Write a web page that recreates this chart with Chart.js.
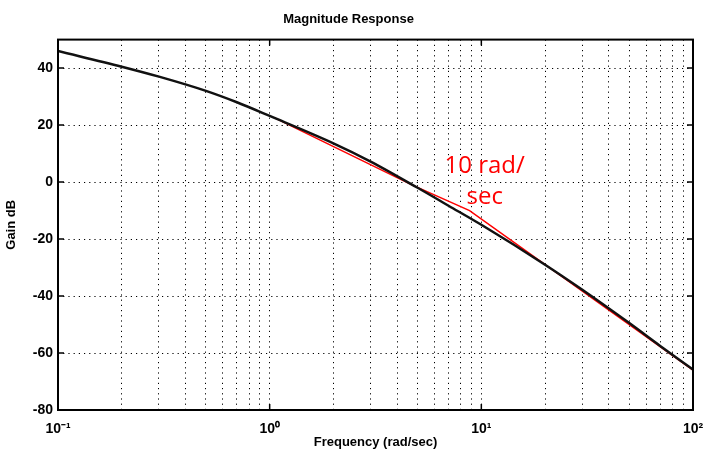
<!DOCTYPE html>
<html>
<head>
<meta charset="utf-8">
<script src="https://cdn.jsdelivr.net/npm/chart.js@4.4.1/dist/chart.umd.min.js"></script>
<style>
  html, body { margin: 0; padding: 0; background: #fff; }
  #wrap { width: 707px; height: 452px; }
</style>
</head>
<body>
<div id="wrap"><canvas id="bode"></canvas></div>
<script>
// values
var freq = [0.1, 0.2, 0.3, 0.5, 0.7, 1, 2, 3, 5, 7, 10, 20, 30, 50, 70, 100]
var gain = [46, 40.5, 37, 32, 28, 23.2, 13.6, 7.2, -2, -8.3, -15, -29, -37.8, -49.5, -57.5, -65.8]

// hand drawn red asymptote
var asymFreq = [1.05, 4.7, 8.8, 100]
var asymGain = [22.6, -1, -10, -66]

var decades = [0.1, 1, 10, 100]
var decadeLabels = ['10\u207B\u00B9', '10\u2070', '10\u00B9', '10\u00B2']
var gainTicks = [-80, -60, -40, -20, 0, 20, 40]

var note = { f: 6.7, g: 3.2, lines: ['10 rad/', 'sec'] }

function toPoints(xs, ys) {
    return xs.map(function (x, i) { return { x: x, y: ys[i] } })
}

var boxPlugin = {
    id: 'box',
    afterDraw: function (chart) {
        var c = chart.ctx, a = chart.chartArea
        var sx = chart.scales.x, sy = chart.scales.y
        c.save()
        c.strokeStyle = '#000'
        c.lineWidth = 2
        c.strokeRect(a.left, a.top, a.right - a.left, a.bottom - a.top)
        c.lineWidth = 1.5
        c.beginPath()
        decades.forEach(function (d) {
            var px = sx.getPixelForValue(d)
            c.moveTo(px, a.bottom); c.lineTo(px, a.bottom - 6)
            c.moveTo(px, a.top); c.lineTo(px, a.top + 6)
        })
        gainTicks.forEach(function (g) {
            var py = sy.getPixelForValue(g)
            c.moveTo(a.left, py); c.lineTo(a.left + 6, py)
            c.moveTo(a.right, py); c.lineTo(a.right - 6, py)
        })
        c.stroke()
        // red note
        c.fillStyle = '#ff0000'
        c.font = '24px "Open Sans", "Noto Sans", sans-serif'
        c.textBaseline = 'alphabetic'
        var nx = sx.getPixelForValue(note.f), ny = sy.getPixelForValue(note.g)
        c.fillText(note.lines[0], nx, ny)
        c.fillText(note.lines[1], nx + 22, ny + 31)
        c.restore()
    }
}

var ctx = document.getElementById('bode')

var bode = new Chart(ctx, {
    type: 'scatter',
    plugins: [boxPlugin],
    data: {
        datasets: [{
            data: toPoints(freq, gain),
            showLine: true,
            borderColor: '#111',
            borderWidth: 2.5,
            pointRadius: 0,
            cubicInterpolationMode: 'monotone'
        }, {
            data: toPoints(asymFreq, asymGain),
            showLine: true,
            borderColor: '#ff0000',
            borderWidth: 1.5,
            pointRadius: 0,
            tension: 0
        }]
    },
    options: {
        animation: false,
        responsive: true,
        maintainAspectRatio: false,
        layout: { padding: { left: 4, right: 14, top: 2, bottom: 0 } },
        plugins: {
            legend: { display: false },
            tooltip: { enabled: false },
            title: {
                display: true,
                text: 'Magnitude Response',
                color: '#000',
                font: { family: '"Liberation Sans", Arial, sans-serif', size: 13, weight: 'bold' },
                padding: { top: 10, bottom: 12 }
            }
        },
        scales: {
            x: {
                type: 'logarithmic',
                min: 0.1,
                max: 100,
                afterBuildTicks: function (s) {
                    var t = []
                    decades.forEach(function (d, i) {
                        var n = i < decades.length - 1 ? 9 : 1
                        for (var k = 1; k <= n; k++) t.push({ value: d * k })
                    })
                    s.ticks = t
                },
                afterFit: function (s) {
                    s.height = 42
                    s.paddingRight = 0
                    s.paddingLeft = 0
                },
                ticks: {
                    autoSkip: false,
                    maxRotation: 0,
                    color: '#000',
                    padding: 11,
                    font: { family: '"Liberation Sans", Arial, sans-serif', size: 14, weight: 'bold' },
                    callback: function (v) {
                        var i = decades.indexOf(v)
                        return i >= 0 ? decadeLabels[i] : ''
                    }
                },
                grid: { color: '#000', lineWidth: 1, drawTicks: false },
                border: { display: false, dash: [1.2, 4] },
                title: {
                    display: true,
                    text: 'Frequency (rad/sec)',
                    color: '#000',
                    font: { family: '"Liberation Sans", Arial, sans-serif', size: 13, weight: 'bold' },
                    padding: { top: 0, bottom: 2 }
                }
            },
            y: {
                min: -80,
                max: 50,
                afterBuildTicks: function (s) {
                    s.ticks = gainTicks.map(function (g) { return { value: g } })
                },
                afterFit: function (s) { s.width = 54 },
                ticks: {
                    color: '#000',
                    padding: 5,
                    font: { family: '"Liberation Sans", Arial, sans-serif', size: 14, weight: 'bold' }
                },
                grid: { color: '#000', lineWidth: 1, drawTicks: false },
                border: { display: false, dash: [1.2, 4] },
                title: {
                    display: true,
                    text: 'Gain dB',
                    color: '#000',
                    font: { family: '"Liberation Sans", Arial, sans-serif', size: 13, weight: 'bold' },
                    padding: { top: 0, bottom: 2 }
                }
            }
        }
    }
})
</script>
</body>
</html>
